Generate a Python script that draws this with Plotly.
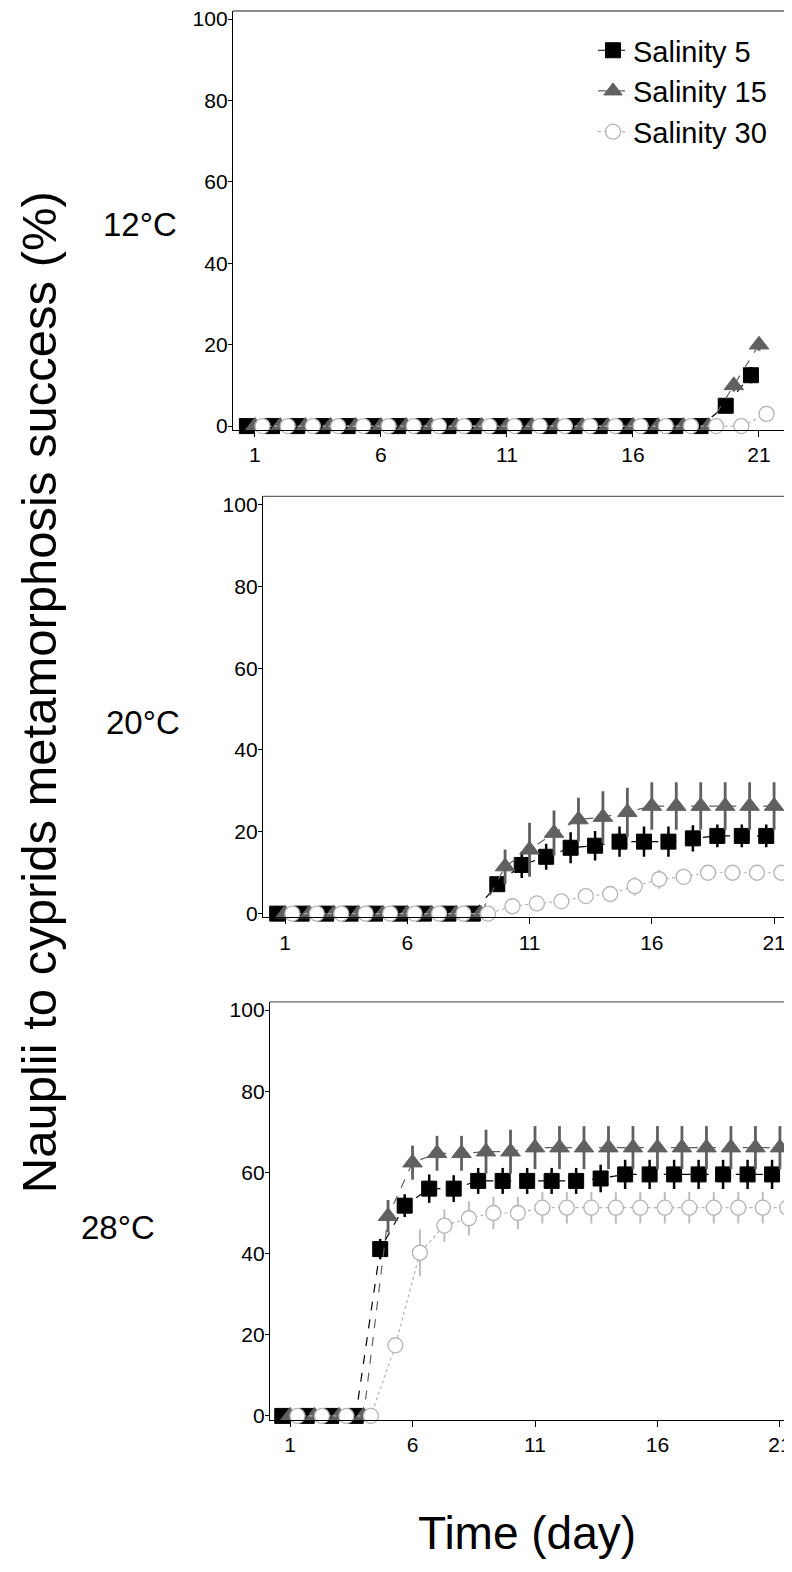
import plotly.graph_objects as go

days = [1, 2, 3, 4, 5, 6, 7, 8, 9, 10, 11, 12, 13, 14, 15, 16, 17, 18, 19, 20, 21]
x_ticks = [1, 6, 11, 16, 21]
y_ticks = [0, 20, 40, 60, 80, 100]
series_names = ["Salinity 5", "Salinity 15", "Salinity 30"]
panel_labels = ["12°C", "20°C", "28°C"]

# 12 °C
s5_12 = [0, 0, 0, 0, 0, 0, 0, 0, 0, 0, 0, 0, 0, 0, 0, 0, 0, 0, 0, 5, 12.5]
s5_12_err = [0, 0, 0, 0, 0, 0, 0, 0, 0, 0, 0, 0, 0, 0, 0, 0, 0, 0, 0, 1, 2]
s15_12 = [0, 0, 0, 0, 0, 0, 0, 0, 0, 0, 0, 0, 0, 0, 0, 0, 0, 0, 0, 10, 20]
s15_12_err = [0, 0, 0, 0, 0, 0, 0, 0, 0, 0, 0, 0, 0, 0, 0, 0, 0, 0, 0, 1.5, 1.5]
s30_12 = [0, 0, 0, 0, 0, 0, 0, 0, 0, 0, 0, 0, 0, 0, 0, 0, 0, 0, 0, 0, 3]
s30_12_err = [0, 0, 0, 0, 0, 0, 0, 0, 0, 0, 0, 0, 0, 0, 0, 0, 0, 0, 0, 0, 1]

# 20 °C
s5_20 = [0, 0, 0, 0, 0, 0, 0, 0, 0, 7.2, 11.9, 13.9, 16.1, 16.6, 17.6, 17.6, 17.6, 18.4, 19.0, 19.0, 19.0]
s5_20_err = [0, 0, 0, 0, 0, 0, 0, 0, 0, 1.5, 3.2, 3.2, 3.8, 3.6, 3.7, 3.7, 3.7, 3.2, 2.8, 2.8, 2.8]
s15_20 = [0, 0, 0, 0, 0, 0, 0, 0, 0, 11.5, 15.6, 19.7, 23.0, 23.6, 24.8, 26.3, 26.3, 26.3, 26.3, 26.3, 26.3]
s15_20_err = [0, 0, 0, 0, 0, 0, 0, 0, 0, 4.2, 6.6, 5.5, 5.3, 6.3, 6.0, 5.8, 5.8, 5.8, 5.8, 5.8, 5.8]
s30_20 = [0, 0, 0, 0, 0, 0, 0, 0, 0, 1.8, 2.5, 3.0, 4.3, 4.8, 6.7, 8.4, 9.0, 10.0, 10.0, 10.0, 10.0]
s30_20_err = [0, 0, 0, 0, 0, 0, 0, 0, 0, 0.5, 0.7, 1.0, 1.5, 1.8, 2.3, 2.3, 2.0, 1.8, 1.8, 1.8, 1.8]

# 28 °C
s5_28 = [0, 0, 0, 0, 41.1, 51.8, 56.0, 56.0, 57.9, 57.9, 57.9, 57.9, 57.9, 58.5, 59.5, 59.5, 59.5, 59.5, 59.5, 59.5, 59.5]
s5_28_err = [0, 0, 0, 0, 2.5, 2.8, 3.5, 3.3, 3.2, 3.2, 3.2, 3.2, 3.2, 3.4, 3.6, 3.6, 3.6, 3.6, 3.6, 3.6, 3.6]
s15_28 = [0, 0, 0, 0, 49.2, 62.4, 64.7, 64.7, 65.1, 65.1, 66.1, 66.1, 66.1, 66.1, 66.1, 66.1, 66.1, 66.1, 66.1, 66.1, 66.1]
s15_28_err = [0, 0, 0, 0, 4.0, 4.2, 4.3, 4.3, 5.4, 5.4, 5.3, 5.3, 5.3, 5.3, 5.3, 5.3, 5.3, 5.3, 5.3, 5.3, 5.3]
s30_28 = [0, 0, 0, 0, 17.4, 40.2, 46.9, 48.7, 50.0, 50.0, 51.3, 51.3, 51.3, 51.3, 51.3, 51.3, 51.3, 51.3, 51.3, 51.3, 51.3]
s30_28_err = [0, 0, 0, 0, 1.5, 5.8, 4.0, 4.2, 4.0, 4.0, 3.9, 3.9, 3.9, 3.9, 3.9, 3.9, 3.9, 3.9, 3.9, 3.9, 3.9]

panels = [
    [(s5_12, s5_12_err), (s15_12, s15_12_err), (s30_12, s30_12_err)],
    [(s5_20, s5_20_err), (s15_20, s15_20_err), (s30_20, s30_20_err)],
    [(s5_28, s5_28_err), (s15_28, s15_28_err), (s30_28, s30_28_err)],
]

# styling
offsets = [-0.32, 0.0, 0.3]
styles = [
    dict(marker=dict(symbol="square", size=15, color="black", line=dict(color="black", width=1)),
         line=dict(color="black", width=1.2, dash="dash"), err="black", errw=2.5),
    dict(marker=dict(symbol="triangle-up", size=17, color="#606060", line=dict(color="#606060", width=1)),
         line=dict(color="#606060", width=1.2, dash="dash"), err="#606060", errw=2.8),
    dict(marker=dict(symbol="circle", size=15, color="white", line=dict(color="#b5b5b5", width=1.3)),
         line=dict(color="#b5b5b5", width=1.2, dash="dot"), err="#bdbdbd", errw=2),
]

W, H = 792, 1572
x_domains = [[225 / W, 783 / W], [255 / W, 1.0], [262 / W, 1.0]]
y_domains = [[1 - 421.7 / H, 1.0], [1 - 912.7 / H, 1 - 488.8 / H], [1 - 1418.5 / H, 1 - 997.9 / H]]
x_ranges = [[0.13, 22.27], [0.1, 22.06], [0.18, 21.82]]
y_range = [-0.9, 102]

font_family = "Liberation Sans, Arial, sans-serif"
fig = go.Figure()

for p, panel in enumerate(panels):
    xa = "x" if p == 0 else f"x{p + 1}"
    ya = "y" if p == 0 else f"y{p + 1}"
    for s, (vals, errs) in enumerate(panel):
        st = styles[s]
        fig.add_trace(go.Scatter(
            x=[d + offsets[s] for d in days], y=vals,
            error_y=dict(type="data", array=errs, visible=True, color=st["err"],
                         thickness=st["errw"], width=0),
            mode="lines+markers", marker=st["marker"], line=st["line"],
            name=series_names[s], legendgroup=series_names[s],
            showlegend=(p == 0), xaxis=xa, yaxis=ya, cliponaxis=False,
        ))

layout = dict(
    width=W, height=H,
    margin=dict(l=0, r=0, t=0, b=0),
    paper_bgcolor="white", plot_bgcolor="white",
    font=dict(family=font_family, size=21, color="black"),
    showlegend=True,
    legend=dict(x=585 / W, y=1 - 14 / H, xanchor="left", yanchor="top",
                font=dict(size=29, family=font_family), bgcolor="rgba(0,0,0,0)",
                tracegroupgap=0, itemwidth=30),
)

shapes = []
annotations = []
for p in range(3):
    xk = "xaxis" if p == 0 else f"xaxis{p + 1}"
    yk = "yaxis" if p == 0 else f"yaxis{p + 1}"
    ya = "y" if p == 0 else f"y{p + 1}"
    xa = "x" if p == 0 else f"x{p + 1}"
    layout[xk] = dict(domain=x_domains[p], range=x_ranges[p], anchor=ya,
                      tickmode="array", tickvals=x_ticks, ticktext=[str(t) for t in x_ticks],
                      ticks="outside", ticklen=6, tickcolor="black", tickwidth=1,
                      showline=True, linecolor="black", linewidth=1.3,
                      showgrid=False, zeroline=False, ticklabeloverflow="allow",
                      tickfont=dict(size=21, family=font_family))
    layout[yk] = dict(domain=y_domains[p], range=y_range, anchor=xa,
                      tickmode="array", tickvals=y_ticks, ticktext=[str(t) for t in y_ticks],
                      ticks="outside", ticklen=4, tickcolor="black", tickwidth=1,
                      showline=True, linecolor="black", linewidth=1.3,
                      showgrid=False, zeroline=False, ticklabeloverflow="allow",
                      ticklabelstandoff=-4,
                      tickfont=dict(size=21, family=font_family))
    # top border (gray)
    shapes.append(dict(type="line", xref=f"{xa} domain", yref=f"{ya} domain",
                       x0=0, x1=1, y0=1, y1=1, line=dict(color="#666666", width=1.3)))
    if p == 0:
        shapes.append(dict(type="line", xref=f"{xa} domain", yref=f"{ya} domain",
                           x0=1, x1=1, y0=0, y1=1, line=dict(color="#666666", width=1.3)))

label_pos = [(132, 215), (135, 717), (110, 1225)]
for lbl, (lx, ly) in zip(panel_labels, label_pos):
    annotations.append(dict(text=lbl, x=lx / W, y=1 - ly / H, xref="paper", yref="paper",
                            showarrow=False, font=dict(size=33, family=font_family),
                            xanchor="center", yanchor="middle"))

annotations.append(dict(text="Nauplii to cyprids metamorphosis success (%)",
                        x=31 / W, y=1 - 686 / H, xref="paper", yref="paper", textangle=-90,
                        showarrow=False, font=dict(size=49, family=font_family),
                        xanchor="center", yanchor="middle"))
annotations.append(dict(text="Time (day)", x=519 / W, y=1 - 1533 / H, xref="paper", yref="paper",
                        showarrow=False, font=dict(size=46, family=font_family),
                        xanchor="center", yanchor="middle"))

layout["shapes"] = shapes
layout["annotations"] = annotations
fig.update_layout(**layout)

fig.write_html("out.html")
